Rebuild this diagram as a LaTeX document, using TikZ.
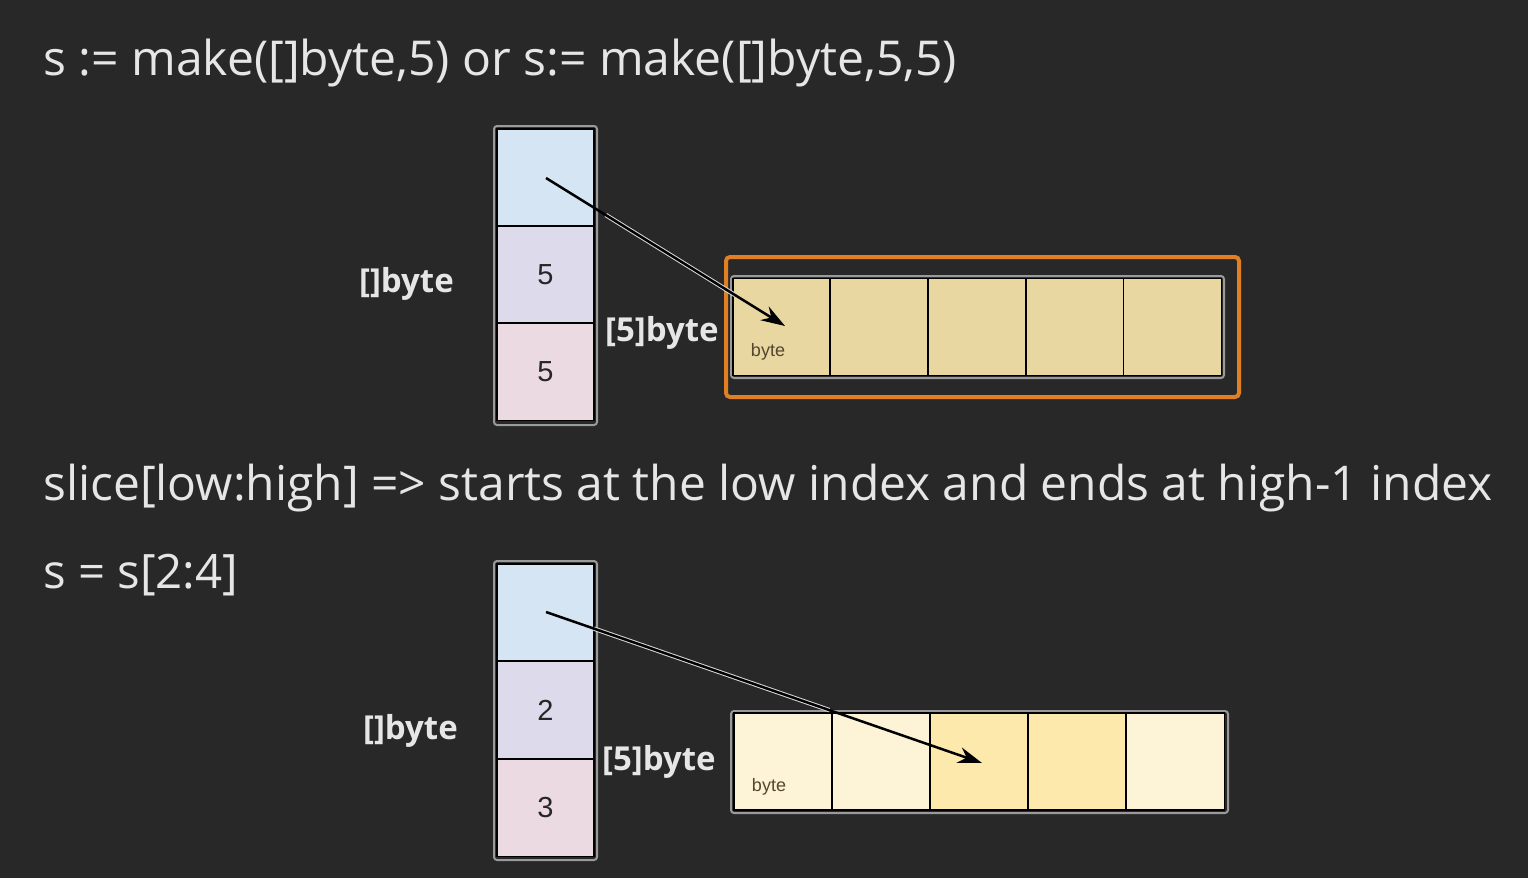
\documentclass[tikz,border=0pt]{standalone}
\usepackage{graphicx}
\usepackage{fontspec}
\setmainfont{Open Sans}
\newfontfamily\arialf{Liberation Sans}
\usetikzlibrary{arrows.meta,calc}
\definecolor{bg}{HTML}{282828}
\definecolor{cblue}{HTML}{D5E5F4}
\definecolor{clav}{HTML}{DCDAEB}
\definecolor{cpink}{HTML}{ECDAE2}
\definecolor{ctan}{HTML}{E8D7A1}
\definecolor{ccream}{HTML}{FDF3D6}
\definecolor{cgold}{HTML}{FDE9AC}
\definecolor{corange}{HTML}{E07F24}
\definecolor{txt}{HTML}{E6E6E6}
\definecolor{frame}{HTML}{9A9A9A}
\definecolor{smalltxt}{HTML}{54462F}
\tikzset{
  stackcell/.style={draw=black, line width=1.5pt, minimum width=97pt, minimum height=97pt, inner sep=0pt, font=\arialf\fontsize{29}{31}\selectfont, text=black!85},
  arrcell/.style={draw=black, line width=1.5pt, minimum width=98pt, minimum height=97pt, inner sep=0pt},
  outerframe/.style={draw=frame, line width=2pt, rounded corners=3pt},
  bigtext/.style={anchor=base west, inner sep=0pt, text=txt, font=\fontsize{50}{56}\selectfont},
  lbl/.style={inner sep=0pt, text=txt, font=\bfseries\fontsize{33}{36}\selectfont},
  smalllbl/.style={inner sep=0pt, text=smalltxt, font=\arialf\fontsize{18}{20}\selectfont},
  ptrhalo/.style={draw=white!85!black, line width=4.5pt},
  ptr/.style={draw=black, line width=2.5pt, -{Stealth[length=24pt,width=16pt]}}
}
\begin{document}
\begin{tikzpicture}[x=1pt,y=-1pt]
\fill[bg] (0,0) rectangle (1528,878);
\useasboundingbox (0,0) rectangle (1528,878);
% texts
\node[bigtext] (t1) at (43,75) {\resizebox{914pt}{!}{s := make([]byte,5) or s:= make([]byte,5,5)}};
\node[bigtext] (t2) at (43,500) {\resizebox{1449pt}{!}{slice[low:high] => starts at the low index and ends at high-1 index}};
\node[bigtext] (t3) at (43,588) {\resizebox{195pt}{!}{s = s[2:4]}};
% ---- top diagram ----
\draw[outerframe] (494,126) rectangle (597,425);
\node[stackcell, fill=cblue] (sa) at (545.5,177.5) {};
\node[stackcell, fill=clav] (sb) at (545.5,274.5) {5};
\node[stackcell, fill=cpink] (sc) at (545.5,372) {5};
\node[lbl, anchor=east] (l1) at (454,284) {[]byte};
\node[lbl, anchor=west] (l2) at (605,333) {[5]byte};
\draw[corange, line width=4pt, rounded corners=4pt] (726,257) rectangle (1239,397);
\draw[outerframe] (731,276) rectangle (1224,378);
\foreach \i/\x in {1/782,2/879,3/977,4/1075,5/1172.5}{
  \node[arrcell, fill=ctan] (a\i) at (\x,327) {};
}
\node[smalllbl] (b1) at (768,352) {byte};
\coordinate (p1) at (546,178);
\coordinate (q1) at (785,326);
\draw[ptrhalo] ($(p1)!0.25!(q1)$) -- ($(p1)!0.79!(q1)$);
\draw[ptr] (p1) -- (q1);
% ---- bottom diagram ----
\draw[outerframe] (494,561) rectangle (597,860);
\node[stackcell, fill=cblue] (ta) at (545.5,612.5) {};
\node[stackcell, fill=clav] (tb) at (545.5,710) {2};
\node[stackcell, fill=cpink] (tc) at (545.5,808) {3};
\node[lbl, anchor=east] (m1) at (458,731) {[]byte};
\node[lbl, anchor=west] (m2) at (602,762) {[5]byte};
\draw[outerframe] (731,711) rectangle (1228,813);
\foreach \i/\x/\c in {1/783/ccream,2/881/ccream,3/979/cgold,4/1077/cgold,5/1175.5/ccream}{
  \node[arrcell, fill=\c] (c\i) at (\x,761.5) {};
}
\node[smalllbl] (b2) at (769,787) {byte};
\coordinate (p2) at (546,612);
\coordinate (q2) at (982,763);
\draw[ptrhalo] ($(p2)!0.11!(q2)$) -- ($(p2)!0.65!(q2)$);
\draw[ptr] (p2) -- (q2);
\end{tikzpicture}
\end{document}
